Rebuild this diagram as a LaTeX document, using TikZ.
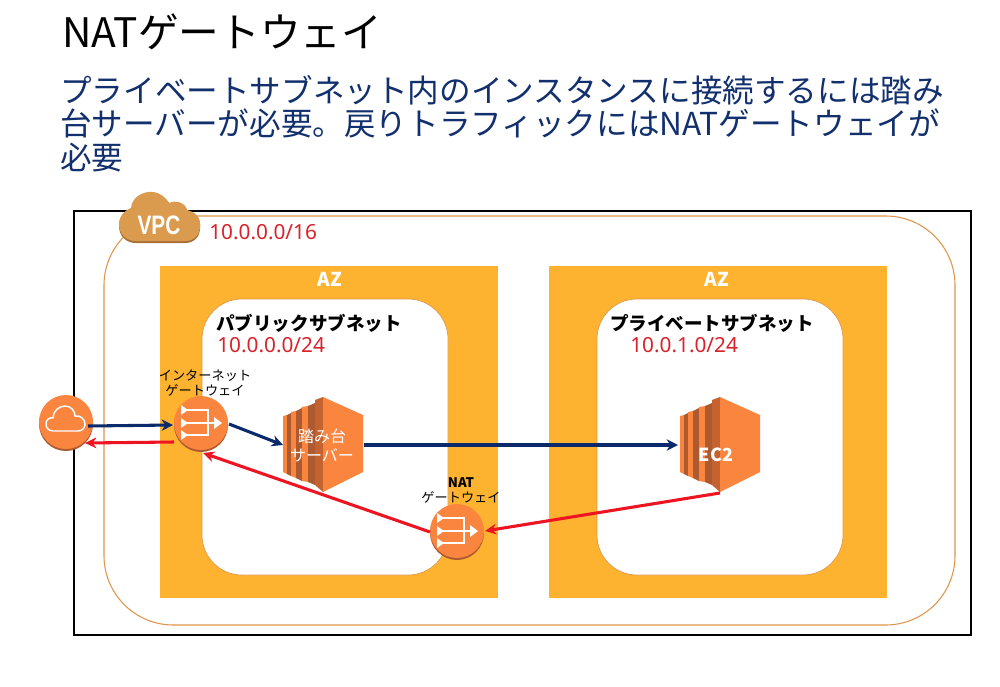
\documentclass[tikz,border=0pt]{standalone}
\usepackage{fontspec}
\setmainfont{Noto Sans CJK JP}
\newfontfamily\latinf{Noto Sans}
\newfontfamily\vpcf{Liberation Sans}
\usetikzlibrary{arrows.meta}
\definecolor{azfill}{HTML}{FDB330}
\definecolor{vpcline}{HTML}{E0954A}
\definecolor{vpccloud}{HTML}{DB9B4E}
\definecolor{vpcdark}{HTML}{A87038}
\definecolor{awsorange}{HTML}{FA853F}
\definecolor{awsdark}{HTML}{AD5A30}
\definecolor{awsmid}{HTML}{C4632F}
\definecolor{navy}{HTML}{0B2A6B}
\definecolor{arrred}{HTML}{EE1522}
\definecolor{ipred}{HTML}{D9232B}
\definecolor{subtitle}{HTML}{12306E}
\tikzset{
  x=0.75pt,y=-0.75pt,
  azbox/.style={fill=azfill,draw=none},
  subnetbox/.style={fill=white,draw=vpcline,line width=0.5pt,rounded corners=30pt},
  azlabel/.style={text=white,font=\fontsize{14.3}{16}\selectfont\bfseries},
  subnetlabel/.style={text=black,font=\fontsize{13.9}{16}\selectfont\bfseries},
  iplabel/.style={text=ipred,font=\latinf\fontsize{15.6}{18}\selectfont},
  smalllabel/.style={text=black,align=center,font=\fontsize{9.9}{11.2}\selectfont},
  awscircle/.style={circle,fill=awsorange,draw=none,minimum size=40.5pt,inner sep=0pt},
  servertext/.style={text=white,align=center,font=\fontsize{12}{14.2}\selectfont},
  serverbox/.style={minimum width=60pt,minimum height=71pt,inner sep=0pt},
  bluearrow/.style={draw=navy,line width=2.3pt,-{Stealth[length=8.5pt,width=8.5pt]}},
  redarrow/.style={draw=arrred,line width=2.3pt,-{Stealth[length=8.5pt,width=8pt]}},
  pics/ec2icon/.style={code={
    \fill[awsorange] (-40,19) -- (-36,18) -- (-36,77) -- (-40,75) -- cycle;
    \fill[awsdark] (-36,18) -- (-32,16) -- (-32,79) -- (-36,77) -- cycle;
    \fill[awsorange] (-32,15) -- (-27,14) -- (-27,81) -- (-32,79) -- cycle;
    \fill[awsdark] (-27,14) -- (-21,11) -- (-21,84) -- (-27,81) -- cycle;
    \fill[awsorange] (-21,10) -- (-15,9) -- (-15,85) -- (-21,84) -- cycle;
    \fill[awsdark] (-15,9) -- (-8,6) -- (-8,88) -- (-15,85) -- cycle;
    \fill[awsmid] (-8,3) -- (0,0) -- (0,95) -- (-8,88) -- cycle;
    \fill[awsorange] (0,0) -- (40,18) -- (40,75) -- (0,95) -- cycle;
  }},
  pics/gwicon/.style={code={
    \draw[white,line width=0.9pt] (-14,-13) -- (7,-13) -- (7,12) -- (-14,12);
    \draw[white,line width=1.4pt] (-14,0) -- (14,0);
    \fill[white] (-20,-18) -- (-13,-13) -- (-20,-8) -- cycle;
    \fill[white] (-20,-5) -- (-13,0) -- (-20,5) -- cycle;
    \fill[white] (-20,7) -- (-13,12) -- (-20,17) -- cycle;
    \fill[white] (13,-6) -- (21,0) -- (13,6) -- cycle;
  }},
  pics/cloudicon/.style={code={
    \draw[white,line width=1.1pt,line join=round] (-13,9) ..controls (-18,9) and (-20,5) .. (-20,2)
      ..controls (-20,-2) and (-17,-5) .. (-13,-4)
      ..controls (-13,-11) and (-7,-16) .. (-1,-16)
      ..controls (5,-16) and (9,-11) .. (9,-6)
      ..controls (14,-7) and (19,-3) .. (19,2)
      ..controls (19,6) and (16,9) .. (12,9) -- cycle;
  }},
}
\begin{document}
\begin{tikzpicture}
\useasboundingbox (0,0) rectangle (1000,686);
\fill[white] (0,0) rectangle (1000,686);

% titles
\node[anchor=west,inner sep=0pt,font=\fontsize{30.5}{34}\selectfont,text=black] (title) at (62,32) {NATゲートウェイ};
\node[anchor=north west,inner sep=0pt,align=left,text=subtitle,font=\fontsize{23.7}{25.1}\selectfont] (subtext) at (60,75)
 {プライベートサブネット内のインスタンスに接続するには踏み\\台サーバーが必要。戻りトラフィックにはNATゲートウェイが\\必要};

% frames
\draw[black,line width=0.8pt] (74,211) rectangle (971,635);
\draw[vpcline,line width=0.8pt,fill=white,rounded corners=52pt] (104,216) rectangle (955,625);

% VPC cloud
\fill[vpcdark] (119,226) ..controls (119,215) and (128,210) .. (134,208)
  ..controls (136,198) and (145,193) .. (153,194)
  ..controls (161,195) and (166,199) .. (170,204)
  ..controls (176,201) and (186,203) .. (187,211)
  ..controls (195,213) and (201,218) .. (200,228)
  ..controls (200,238) and (193,243) .. (185,243)
  -- (136,243) ..controls (126,243) and (119,236) .. (119,226) -- cycle;
\fill[vpccloud] (119,224) ..controls (119,214) and (128,209) .. (131,208)
  ..controls (132,197) and (143,191) .. (153,192)
  ..controls (161,193) and (166,198) .. (169,203)
  ..controls (175,200) and (185,202) .. (187,210)
  ..controls (195,212) and (201,217) .. (200,226)
  ..controls (200,236) and (193,241) .. (185,241)
  -- (136,241) ..controls (126,241) and (119,234) .. (119,224) -- cycle;
\node[inner sep=0pt,text=white,xscale=0.78,font=\vpcf\fontsize{20}{22}\selectfont\bfseries] (vpclabel) at (159,225) {VPC};
\node[iplabel,anchor=west,inner sep=0pt] (vpcip) at (209,232) {10.0.0.0/16};

% AZ
\fill[azfill] (160,266) rectangle (498,598);
\fill[azfill] (549,266) rectangle (887,598);
\node[azlabel] (azleft) at (330,279) {AZ};
\node[azlabel] (azright) at (717,279) {AZ};

% subnets
\draw[subnetbox] (202,299) rectangle (448,575);
\draw[subnetbox] (597,299) rectangle (843,575);
\node[subnetlabel] (publabel) at (309,323) {パブリックサブネット};
\node[subnetlabel] (prilabel) at (712,323) {プライベートサブネット};
\node[iplabel,anchor=west,inner sep=0pt] (pubip) at (217,345) {10.0.0.0/24};
\node[iplabel,anchor=west,inner sep=0pt] (priip) at (630,345) {10.0.1.0/24};

% server icons
\pic at (323,397) {ec2icon};
\pic at (720,397) {ec2icon};
\node[serverbox] (srv) at (323,445) {};
\node[serverbox] (ec2) at (720,445) {};
\node[servertext] (srvtext) at (322,446) {踏み台\\サーバー};
\node[text=white,font=\fontsize{13.5}{15}\selectfont\bfseries] (ec2text) at (716,455) {EC2};

% round icons
\fill[awsdark] (66,424) circle (27);
\fill[awsdark] (201,425) circle (27);
\fill[awsdark] (457,533) circle (27);
\node[awscircle] (inet) at (66,422) {};
\node[awscircle] (igw) at (201,423) {};
\node[awscircle] (natgw) at (457,531) {};
\pic at (201,423) {gwicon};
\pic at (457,531) {gwicon};
\pic at (66,422) {cloudicon};
\node[smalllabel] (igwlabel) at (205,383) {インターネット\\ゲートウェイ};
\node[smalllabel] (natlabel) at (461,490) {\textbf{NAT}\\ゲートウェイ};

% connectors
\draw[bluearrow] ([shift={(22,4)}]inet.center) -- ([shift={(-28,2)}]igw.center);
\draw[redarrow] ([shift={(-27,19)}]igw.center) -- ([shift={(19,21)}]inet.center);
\draw[bluearrow] ([shift={(28,1)}]igw.center) -- ([shift={(-40,0)}]srv.center);
\draw[bluearrow] ([shift={(41,0)}]srv.center) -- ([shift={(-42,0)}]ec2.center);
\draw[redarrow] ([shift={(0,48)}]ec2.center) -- ([shift={(28,0)}]natgw.center);
\draw[redarrow] ([shift={(-27,1)}]natgw.center) -- ([shift={(2,30)}]igw.center);
\end{tikzpicture}
\end{document}
